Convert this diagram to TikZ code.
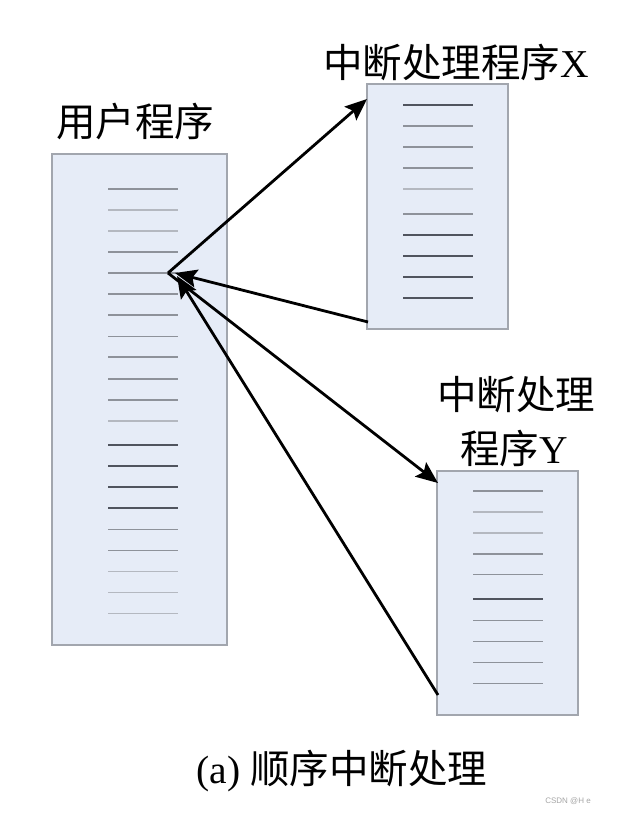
\documentclass[tikz,border=0pt]{standalone}
\usepackage{fontspec}
\setmainfont{Liberation Serif}
\newfontfamily\cjk{Noto Sans CJK SC}
\newfontfamily\wmfont{Liberation Sans}
\usetikzlibrary{arrows.meta}
\definecolor{boxfill}{HTML}{E6ECF7}
\definecolor{boxedge}{HTML}{A2A6AE}
\definecolor{lnA}{HTML}{B4B8C0}
\definecolor{lnB}{HTML}{8E929A}
\definecolor{lnC}{HTML}{50545E}
\tikzset{
  progbox/.style={draw=boxedge, fill=boxfill, line width=1.2pt, inner sep=0pt, minimum width=#1},
  codeA/.style={draw=lnA, line width=1.3pt},
  codeB/.style={draw=lnB, line width=1.3pt},
  codeC/.style={draw=lnC, line width=1.3pt},
  flow/.style={line width=2.8pt, -{Stealth[length=22pt,width=18pt,inset=4pt]}},
  lbl/.style={inner sep=0pt, font=\fontsize{39.5}{44}\selectfont}
}
\begin{document}
\begin{tikzpicture}[x=1pt,y=-1pt]
\useasboundingbox (0,0) rectangle (618,813);
\fill[white] (0,0) rectangle (618,813);
% boxes
\node[progbox=175pt, minimum height=491pt] (user) at (139.5,399.5) {};
\node[progbox=141pt, minimum height=245pt] (xbox) at (437.5,206.5) {};
\node[progbox=141pt, minimum height=244pt] (ybox) at (507.5,593) {};
% code lines in user box
\foreach \yy/\st in {189/codeB,210/codeA,231/codeA,252/codeB,273/codeB,294/codeB,315/codeB,336.5/codeB,357/codeB,
                     379/codeB,400/codeB,421/codeA,445/codeC,466/codeC,487/codeC,508/codeC,529.5/codeB,550.5/codeB,571.5/codeA,592.5/codeA,613.5/codeA}
  \draw[\st] (108,\yy) -- (178,\yy);
% code lines in X box
\foreach \yy/\st in {105/codeC,126/codeB,147/codeB,168/codeB,189/codeA,214/codeB,235/codeC,256/codeC,277/codeC,298/codeC}
  \draw[\st] (403,\yy) -- (473,\yy);
% code lines in Y box
\foreach \yy/\st in {491/codeB,512/codeA,533/codeA,554/codeB,574.5/codeB,599/codeC,620.5/codeB,641.5/codeB,662.5/codeB,683.5/codeB}
  \draw[\st] (473,\yy) -- (543,\yy);
% labels
\node[lbl] (tuser) at (135,122) {\cjk 用户程序};
\node[lbl] (tx) at (456,62) {{\cjk 中断处理程序}X};
\node[lbl] (ty1) at (516,395) {\cjk 中断处理};
\node[lbl] (ty2) at (514,448) {{\cjk 程序}Y};
\node[lbl] (cap) at (342,771) {(a) {\cjk 顺序中断处理}};
\node[inner sep=0pt, text=gray!70, font=\wmfont\fontsize{8}{9}\selectfont] (wm) at (568,801) {CSDN @H e};
% connector points
\coordinate (hub) at (168,273);
\coordinate (xin) at (367,99);
\coordinate (xout) at (368,322);
\coordinate (hubx) at (175,273);
\coordinate (yin) at (438,483);
\coordinate (yout) at (438,695);
\coordinate (huby) at (177,276);
% arrows
\draw[flow] (hub) -- (xin);
\draw[flow] (xout) -- (hubx);
\draw[flow] (hub) -- (yin);
\draw[flow] (yout) -- (huby);
\end{tikzpicture}
\end{document}
